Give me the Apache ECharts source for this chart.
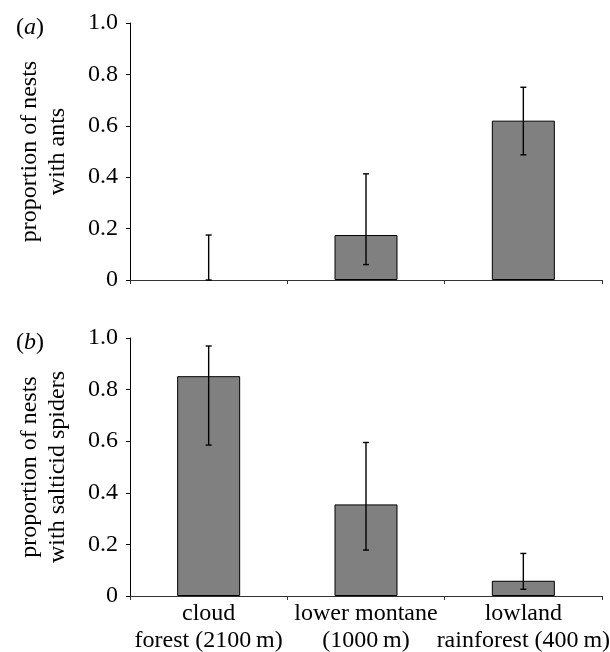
<!DOCTYPE html>
<html>
<head>
<meta charset="utf-8">
<script src="https://cdn.jsdelivr.net/npm/echarts@6/dist/echarts.min.js"></script>
<style>
html,body{margin:0;padding:0;background:#fff;}
#chart{width:610px;height:652px;}
</style>
</head>
<body>
<div id="chart"></div>
<script>
const categories = ['cloud\nforest (2100\u2009m)', 'lower montane\n(1000\u2009m)', 'lowland\nrainforest (400\u2009m)'];
const yTicks = [0, 0.2, 0.4, 0.6, 0.8, 1.0];

const antsValues = [0, 0.175, 0.62];
const antsLow = [0, 0.06, 0.487];
const antsHigh = [0.175, 0.413, 0.75];

const spiderValues = [0.852, 0.355, 0.059];
const spiderLow = [0.585, 0.178, 0.026];
const spiderHigh = [0.969, 0.595, 0.165];

const FONT = '"Liberation Serif", "Times New Roman", Times, serif';
const chart = echarts.init(document.getElementById('chart'));

function barData(values) {
  return values.map(v => (v === 0 ? {value: v, itemStyle: {borderWidth: 0}} : v));
}
function errData(low, high) {
  return low.map((l, i) => [i, l, high[i]]);
}
function renderErr(params, api) {
  const x = api.value(0);
  const lo = api.coord([x, api.value(1)]);
  const hi = api.coord([x, api.value(2)]);
  const w = 3;
  const style = {stroke: '#000', lineWidth: 1.4};
  return {
    type: 'group',
    children: [
      {type: 'line', shape: {x1: lo[0], y1: lo[1], x2: hi[0], y2: hi[1]}, style: style},
      {type: 'line', shape: {x1: hi[0] - w, y1: hi[1], x2: hi[0] + w, y2: hi[1]}, style: style},
      {type: 'line', shape: {x1: lo[0] - w, y1: lo[1], x2: lo[0] + w, y2: lo[1]}, style: style}
    ]
  };
}
function xAxis(gridIndex, showLabels) {
  return {
    type: 'category', gridIndex: gridIndex, data: categories,
    axisLine: {lineStyle: {color: '#333', width: 1}},
    axisTick: {show: true, length: 4, lineStyle: {color: '#333'}},
    axisLabel: {show: showLabels, interval: 0, color: '#000', fontFamily: FONT, fontSize: 24, lineHeight: 27, margin: 4}
  };
}
function yAxis(gridIndex, name) {
  return {
    type: 'value', gridIndex: gridIndex, min: 0, max: 1, interval: 0.2,
    name: name, nameLocation: 'middle', nameRotate: 90, nameGap: 58,
    nameTextStyle: {color: '#000', fontFamily: FONT, fontSize: 24, lineHeight: 28},
    splitLine: {show: false},
    axisLine: {show: true, lineStyle: {color: '#000', width: 1}},
    axisTick: {show: true, length: 4, lineStyle: {color: '#000'}},
    axisLabel: {color: '#000', fontFamily: FONT, fontSize: 24, margin: 12,
      formatter: v => (v === 0 ? '0' : v.toFixed(1))}
  };
}
const rich = {
  n: {fontFamily: FONT, fontSize: 24, fontWeight: 'normal', color: '#000'},
  i: {fontFamily: FONT, fontSize: 24, fontWeight: 'normal', fontStyle: 'italic', color: '#000'}
};
chart.setOption({
  animation: false,
  backgroundColor: '#fff',
  title: [
    {text: '{n|(}{i|a}{n|)}', left: 11, top: 11, textStyle: {fontWeight: 'normal', rich: rich}},
    {text: '{n|(}{i|b}{n|)}', left: 11, top: 326, textStyle: {fontWeight: 'normal', rich: rich}}
  ],
  grid: [
    {left: 130, top: 23, width: 472, height: 257, containLabel: false, outerBoundsMode: 'none'},
    {left: 130, top: 338, width: 472, height: 258, containLabel: false, outerBoundsMode: 'none'}
  ],
  xAxis: [xAxis(0, false), xAxis(1, true)],
  yAxis: [yAxis(0, 'proportion of nests\nwith ants'), yAxis(1, 'proportion of nests\nwith salticid spiders')],
  series: [
    {type: 'bar', xAxisIndex: 0, yAxisIndex: 0, data: barData(antsValues), barWidth: 63,
     itemStyle: {color: '#808080', borderColor: '#000', borderWidth: 1}},
    {type: 'custom', xAxisIndex: 0, yAxisIndex: 0, data: errData(antsLow, antsHigh), renderItem: renderErr, z: 10},
    {type: 'bar', xAxisIndex: 1, yAxisIndex: 1, data: barData(spiderValues), barWidth: 63,
     itemStyle: {color: '#808080', borderColor: '#000', borderWidth: 1}},
    {type: 'custom', xAxisIndex: 1, yAxisIndex: 1, data: errData(spiderLow, spiderHigh), renderItem: renderErr, z: 10}
  ]
});
</script>
</body>
</html>
